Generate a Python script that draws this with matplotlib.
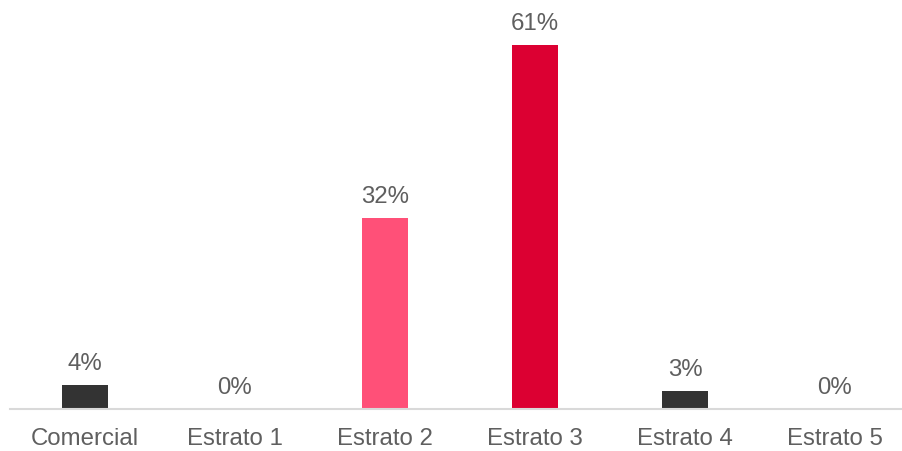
import matplotlib.pyplot as plt

categorias = ['Comercial', 'Estrato 1', 'Estrato 2', 'Estrato 3', 'Estrato 4', 'Estrato 5']
valores = [4, 0, 32, 61, 3, 0]
colores = ['#333333', '#333333', '#FF5078', '#DC0032', '#333333', '#333333']

plt.rcParams['font.family'] = ['Liberation Sans', 'DejaVu Sans']

fig = plt.figure(figsize=(9.02, 4.51), dpi=100)
ax = fig.add_axes([10 / 902, 42 / 451, 900 / 902, 364 / 451])

x = range(len(categorias))
barras = ax.bar(x, valores, width=0.31, color=colores)
for i, v in enumerate(valores):
    ax.annotate(f'{v}%', (i, v), xytext=(0, 7), textcoords='offset points',
                ha='center', va='bottom', fontsize=17.3, color='#5F5F5F')

ax.set_xlim(-0.5, 5.5)
ax.set_ylim(0, 61)
ax.set_xticks(list(x))
ax.set_xticklabels(categorias, fontsize=17.3, color='#5F5F5F')
ax.tick_params(axis='x', length=0, pad=14)
ax.set_yticks([])
for s in ['top', 'right', 'left']:
    ax.spines[s].set_visible(False)
ax.spines['bottom'].set_color('#D9D9D9')
ax.spines['bottom'].set_linewidth(1.5)

fig.savefig('out.png', dpi=100)
